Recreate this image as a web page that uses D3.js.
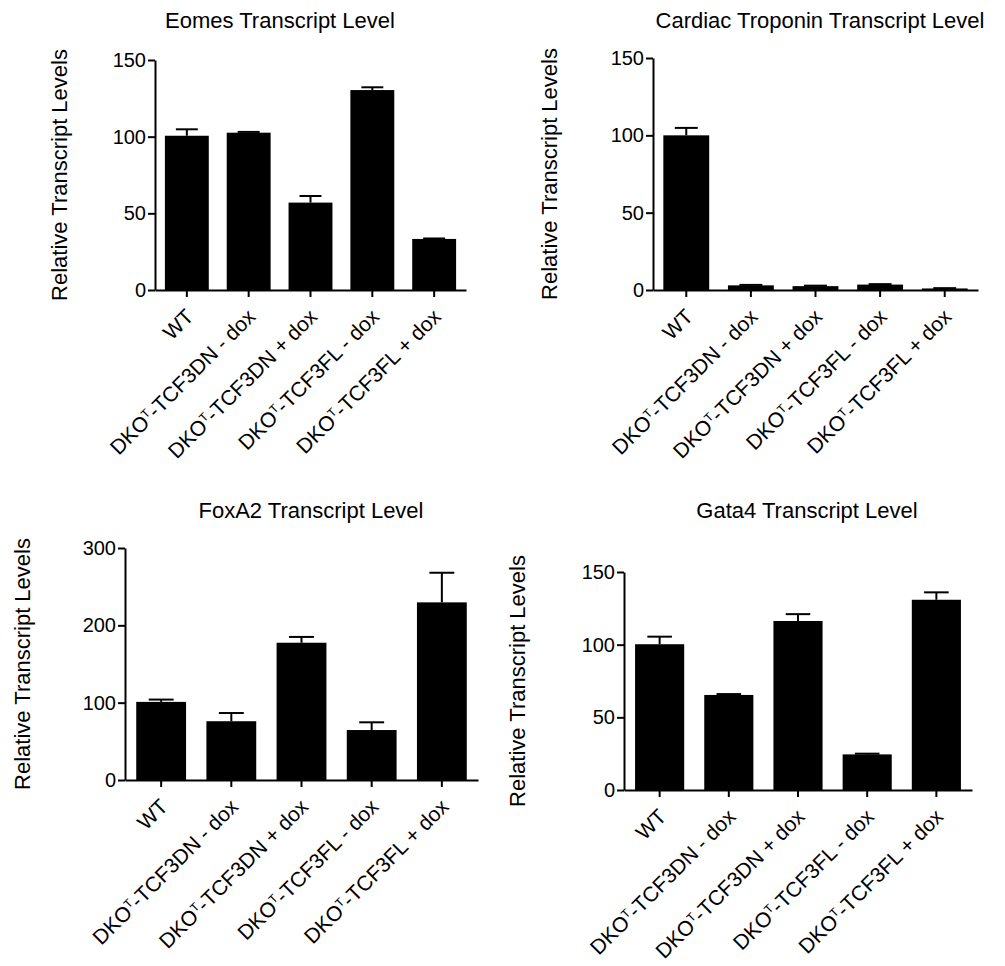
<!DOCTYPE html>
<html lang="en">
<meta charset="utf-8">
<head>
    <style>
        body { margin: 0; background: #fff; }
        svg { font-family: "Liberation Sans", Arial, Helvetica, sans-serif; }
        .axis path, .axis line { stroke: #000; stroke-width: 2; }
        .axis text { fill: #000; }
    </style>
    <script src="https://d3js.org/d3.v7.min.js"></script>
</head>
<body>
</body>
<script>
    // data
    var categories = ["WT", "DKO^T-TCF3DN - dox", "DKO^T-TCF3DN + dox", "DKO^T-TCF3FL - dox", "DKO^T-TCF3FL + dox"];

    var eomesMean = [100.6, 102.6, 57, 130.4, 33.3];
    var eomesSem = [4.2, 0.5, 4.3, 1.8, 0.3];

    var troponinMean = [100, 3, 2.5, 3.5, 1];
    var troponinSem = [4.8, 0.3, 0.3, 0.3, 0.2];

    var foxa2Mean = [101, 76, 177.5, 64.6, 229.7];
    var foxa2Sem = [3, 10.6, 7.5, 10, 38.3];

    var gata4Mean = [100.3, 65.4, 116.3, 24.5, 130.9];
    var gata4Sem = [5.2, 0.6, 4.7, 0.5, 5.1];

    var ticks150 = [0, 50, 100, 150];
    var ticks300 = [0, 100, 200, 300];

    var yTitle = "Relative Transcript Levels";

    // panel layout
    var panels = [
        { title: "Eomes Transcript Level", mean: eomesMean, sem: eomesSem, yMax: 150, ticks: ticks150,
          x0: 155, x1: 466, yTop: 60, yBot: 290, titleX: 280, titleY: 28, labX: 67 },
        { title: "Cardiac Troponin Transcript Level", mean: troponinMean, sem: troponinSem, yMax: 150, ticks: ticks150,
          x0: 653, x1: 978, yTop: 58, yBot: 290, titleX: 820, titleY: 28, labX: 557 },
        { title: "FoxA2 Transcript Level", mean: foxa2Mean, sem: foxa2Sem, yMax: 300, ticks: ticks300,
          x0: 125, x1: 478, yTop: 548, yBot: 780, titleX: 311, titleY: 518, labX: 30 },
        { title: "Gata4 Transcript Level", mean: gata4Mean, sem: gata4Sem, yMax: 150, ticks: ticks150,
          x0: 624, x1: 972, yTop: 572, yBot: 790, titleX: 807, titleY: 518, labX: 525 }
    ];

    var svg = d3.select("body")
        .append("svg")
        .attr("width", 1005)
        .attr("height", 966);

    panels.forEach(function (p) {
        var g = svg.append("g");

        var x = d3.scaleBand()
            .domain(categories)
            .range([p.x0, p.x1])
            .paddingInner(0.29)
            .paddingOuter(0.16);

        var y = d3.scaleLinear()
            .domain([0, p.yMax])
            .range([p.yBot, p.yTop]);

        // bars
        g.selectAll("rect.bar")
            .data(p.mean)
            .enter()
            .append("rect")
            .attr("class", "bar")
            .attr("x", function (d, i) { return x(categories[i]); })
            .attr("y", function (d) { return y(d); })
            .attr("width", x.bandwidth())
            .attr("height", function (d) { return y(0) - y(d); })
            .attr("fill", "#000");

        // error bars (upper only)
        var capW = x.bandwidth() / 2;
        p.mean.forEach(function (m, i) {
            var cx = x(categories[i]) + x.bandwidth() / 2;
            var top = y(m + p.sem[i]);
            g.append("line")
                .attr("x1", cx).attr("x2", cx)
                .attr("y1", y(m)).attr("y2", top)
                .attr("stroke", "#000").attr("stroke-width", 2);
            g.append("line")
                .attr("x1", cx - capW / 2).attr("x2", cx + capW / 2)
                .attr("y1", top).attr("y2", top)
                .attr("stroke", "#000").attr("stroke-width", 2);
        });

        // y axis
        var ya = g.append("g")
            .attr("class", "axis")
            .attr("transform", "translate(" + p.x0 + ",0)")
            .call(d3.axisLeft(y).tickValues(p.ticks).tickSize(7).tickPadding(2).tickSizeOuter(0));
        ya.selectAll("text").style("font-size", "20px");

        // x axis
        g.append("g")
            .attr("class", "axis")
            .attr("transform", "translate(0," + p.yBot + ")")
            .call(d3.axisBottom(x).tickSize(7).tickSizeOuter(0).tickFormat(""));

        // rotated category labels with superscript T
        categories.forEach(function (c) {
            var cx = x(c) + x.bandwidth() / 2;
            var t = g.append("text")
                .attr("transform", "translate(" + (cx + 8) + "," + (p.yBot + 28) + ") rotate(-45)")
                .attr("text-anchor", "end")
                .style("font-size", "21px")
                .attr("fill", "#000");
            var parts = c.split("^T");
            if (parts.length > 1) {
                t.append("tspan").text(parts[0]);
                t.append("tspan").text("T").attr("baseline-shift", "super").style("font-size", "12px");
                t.append("tspan").text(parts[1]);
            } else {
                t.text(c);
            }
        });

        // title
        g.append("text")
            .attr("x", p.titleX)
            .attr("y", p.titleY)
            .attr("text-anchor", "middle")
            .style("font-size", "22px")
            .text(p.title);

        // y axis title
        g.append("text")
            .attr("transform", "translate(" + p.labX + "," + ((p.yTop + p.yBot) / 2) + ") rotate(-90)")
            .attr("text-anchor", "middle")
            .style("font-size", "22px")
            .text(yTitle);
    });
</script>
</html>
